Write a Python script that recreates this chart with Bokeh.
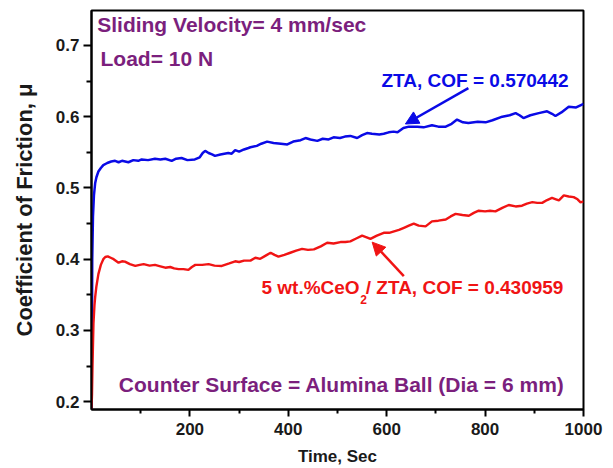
from bokeh.plotting import figure
from bokeh.models import Label, Arrow, NormalHead, FixedTicker
from bokeh.embed import file_html
from bokeh.resources import INLINE

# ---- data ----
blue_t = [0, 1, 1.5, 3, 5, 7.5, 10, 14, 19, 24, 32, 40, 48, 55, 62, 75, 85, 95, 102, 115,
          129, 140, 150, 163, 172, 183, 195, 210, 220, 226, 231, 238, 245, 251, 262, 278,
          285, 292, 300, 310, 319, 323, 336, 345, 357, 370, 385, 398, 410, 425, 435, 445,
          459, 470, 482, 492, 505, 515, 526, 540, 550, 560, 570, 585, 594, 604, 614, 622,
          634, 645, 662, 675, 692, 705, 720, 732, 743, 755, 766, 785, 801, 815, 835, 850,
          862, 870, 878, 892, 909, 926, 936, 943, 955, 970, 985, 997, 1000]
blue_cof = [0.189, 0.30, 0.40, 0.46, 0.49, 0.507, 0.515, 0.523, 0.528, 0.532, 0.535, 0.537,
            0.538, 0.536, 0.538, 0.536, 0.539, 0.538, 0.540, 0.539, 0.541, 0.540, 0.541,
            0.538, 0.541, 0.542, 0.539, 0.540, 0.543, 0.549, 0.552, 0.549, 0.547, 0.545,
            0.547, 0.549, 0.548, 0.553, 0.551, 0.554, 0.556, 0.557, 0.559, 0.562, 0.565,
            0.563, 0.562, 0.561, 0.565, 0.567, 0.570, 0.568, 0.566, 0.569, 0.568, 0.571,
            0.570, 0.572, 0.573, 0.570, 0.574, 0.577, 0.576, 0.575, 0.576, 0.578, 0.579,
            0.578, 0.584, 0.586, 0.586, 0.585, 0.588, 0.586, 0.586, 0.590, 0.596, 0.592,
            0.591, 0.593, 0.592, 0.595, 0.600, 0.602, 0.605, 0.602, 0.598, 0.602, 0.605,
            0.6075, 0.604, 0.601, 0.606, 0.614, 0.613, 0.617, 0.618]

red_t = [0, 1, 2, 4, 6, 7.5, 10, 14, 19, 24, 28, 33, 39, 45, 55, 62, 68, 78, 89, 98, 106,
         118, 129, 140, 150, 160, 168, 177, 187, 197, 204, 211, 225, 238, 250, 265, 280,
         292, 300, 310, 323, 333, 343, 354, 364, 372, 380, 392, 404, 416, 428, 440, 452,
         466, 479, 492, 506, 516, 526, 538, 550, 558, 567, 580, 594, 605, 615, 625, 635,
         645, 655, 665, 679, 692, 705, 720, 730, 740, 754, 767, 777, 787, 800, 810, 821,
         835, 848, 862, 875, 885, 896, 906, 916, 926, 936, 944, 950, 960, 970, 980, 988,
         994, 1000]
red_cof = [0.189, 0.21, 0.25, 0.31, 0.335, 0.347, 0.362, 0.379, 0.392, 0.400, 0.403, 0.404,
           0.402, 0.400, 0.395, 0.397, 0.3965, 0.393, 0.3905, 0.392, 0.393, 0.391, 0.392,
           0.390, 0.388, 0.389, 0.387, 0.386, 0.386, 0.385, 0.389, 0.392, 0.392, 0.393,
           0.391, 0.3905, 0.394, 0.397, 0.396, 0.398, 0.398, 0.402, 0.4005, 0.405, 0.409,
           0.406, 0.4035, 0.406, 0.409, 0.412, 0.4145, 0.413, 0.4137, 0.418, 0.423, 0.422,
           0.424, 0.424, 0.425, 0.429, 0.433, 0.431, 0.4285, 0.433, 0.437, 0.437, 0.439,
           0.441, 0.444, 0.447, 0.450, 0.447, 0.446, 0.453, 0.454, 0.4556, 0.460, 0.4635,
           0.462, 0.461, 0.465, 0.468, 0.467, 0.468, 0.467, 0.472, 0.476, 0.474, 0.475,
           0.478, 0.480, 0.479, 0.479, 0.483, 0.486, 0.484, 0.4825, 0.4895, 0.488, 0.487,
           0.484, 0.4797, 0.481]

x_ticks = [200, 400, 600, 800, 1000]
x_minor = [100, 300, 500, 700, 900]
y_ticks = [0.2, 0.3, 0.4, 0.5, 0.6, 0.7]
y_minor = [0.25, 0.35, 0.45, 0.55, 0.65]

FONT = "Liberation Sans"
BLUE = "#0a0ae6"
RED = "#f01414"
PURPLE = "#7b1f7d"

p = figure(width=613, height=468, x_range=(0, 1000), y_range=(0.189, 0.749),
           output_backend="svg", toolbar_location=None,
           min_border_left=91, min_border_right=30, min_border_top=10, min_border_bottom=57)
p.background_fill_color = "white"
p.border_fill_color = "white"
p.grid.visible = False
p.outline_line_color = "black"
p.outline_line_width = 2

p.xaxis.ticker = FixedTicker(ticks=x_ticks, minor_ticks=x_minor)
p.yaxis.ticker = FixedTicker(ticks=y_ticks, minor_ticks=y_minor)

for ax in (p.xaxis[0], p.yaxis[0]):
    ax.axis_line_width = 2
    ax.axis_line_color = "black"
    ax.major_tick_line_width = 2
    ax.minor_tick_line_width = 2
    ax.major_tick_in = 0
    ax.minor_tick_in = 0
    ax.major_label_text_font = FONT
    ax.major_label_text_font_style = "bold"
    ax.major_label_text_font_size = "17px"
    ax.major_label_text_color = "#1a1a1a"
    ax.axis_label_text_font = FONT
    ax.axis_label_text_font_style = "bold"
    ax.axis_label_text_color = "#1a1a1a"

p.xaxis.major_tick_out = 7
p.xaxis.minor_tick_out = 4
p.yaxis.major_tick_out = 8
p.yaxis.minor_tick_out = 5
p.xaxis.major_label_standoff = 6
p.yaxis.major_label_standoff = 4
p.xaxis.axis_label = "Time, Sec"
p.xaxis.axis_label_text_font_size = "17px"
p.xaxis.axis_label_standoff = 9
p.yaxis.axis_label = "Coefficient of Friction, μ"
p.yaxis.axis_label_text_font_size = "22px"
p.yaxis.axis_label_standoff = 16
p.yaxis.formatter.use_scientific = False

p.line(blue_t, blue_cof, line_color=BLUE, line_width=2.5)
p.line(red_t, red_cof, line_color=RED, line_width=2.4)

def lab(x, y, text, color, size, align="left", baseline="middle"):
    p.add_layout(Label(x=x, y=y, text=text, text_color=color, text_font=FONT,
                       text_font_style="bold", text_font_size=size,
                       text_align=align, text_baseline=baseline))

lab(11.6, 0.7293, "Sliding Velocity= 4 mm/sec", PURPLE, "21px")
lab(18.3, 0.6818, "Load= 10 N", PURPLE, "21px")
lab(55.5, 0.2244, "Counter Surface = Alumina Ball (Dia = 6 mm)", PURPLE, "21px")
lab(589.4, 0.6511, "ZTA, COF = 0.570442", BLUE, "19px")
lab(545.0, 0.3606, "5 wt.%CeO", RED, "19px", align="right")
lab(546.0, 0.3430, "2", RED, "12px")
lab(557.5, 0.3606, "/ ZTA, COF = 0.430959", RED, "19px")

p.add_layout(Arrow(end=NormalHead(size=13, fill_color=BLUE, line_color=BLUE),
                   x_start=766, y_start=0.640, x_end=638, y_end=0.5897,
                   line_color=BLUE, line_width=2.5))
p.add_layout(Arrow(end=NormalHead(size=13, fill_color=RED, line_color=RED),
                   x_start=634.8, y_start=0.3763, x_end=570.5, y_end=0.4239,
                   line_color=RED, line_width=2.5))

open("out.html", "w").write(file_html(p, INLINE))
